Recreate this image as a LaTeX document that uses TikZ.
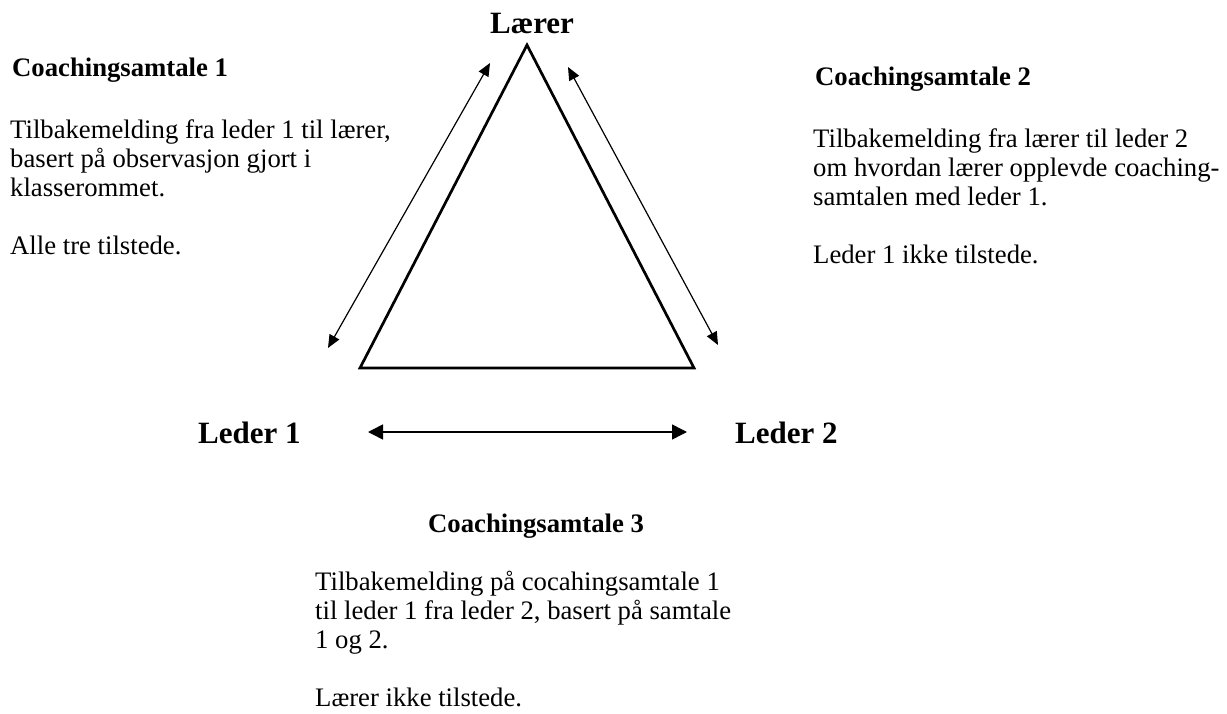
\documentclass[tikz,border=0pt]{standalone}
\usepackage{fontspec}
\setmainfont{Liberation Serif}
\usetikzlibrary{arrows.meta}
\newcommand\lyne[1]{\hbox{#1}}
\begin{document}
\begin{tikzpicture}[x=1pt,y=-1pt,
  body/.style={inner sep=0pt,anchor=base west,font=\fontsize{26.7}{29}\selectfont},
  head/.style={inner sep=0pt,anchor=base west,font=\fontsize{26.7}{29}\selectfont\bfseries},
  big/.style={inner sep=0pt,anchor=base west,font=\fontsize{31}{34}\selectfont\bfseries},
  tri/.style={line width=2.7pt,line join=miter},
  dbl/.style={line width=1.2pt,{Triangle[length=13pt,width=11pt]}-{Triangle[length=13pt,width=11pt]}},
  hdbl/.style={line width=1.5pt,{Triangle[length=15pt,width=15pt]}-{Triangle[length=15pt,width=15pt]}}]
\useasboundingbox (0,0) rectangle (1227,714);
% triangle corners
\coordinate (A) at (527,45);
\coordinate (B) at (360,368);
\coordinate (C) at (694,368);
\draw[tri] (A) -- (B) -- (C) -- cycle;
% arrow ends
\coordinate (l1) at (328,348);
\coordinate (l2) at (490,63);
\coordinate (r1) at (568,67);
\coordinate (r2) at (718,345);
\coordinate (h1) at (368,432);
\coordinate (h2) at (687,432);
\draw[dbl] (l1) -- (l2);
\draw[dbl] (r1) -- (r2);
\draw[hdbl] (h1) -- (h2);
% labels
\node[big] (laerer) at (490,34) {Lærer};
\node[big] (leder1) at (198,443) {Leder 1};
\node[big] (leder2) at (735,443) {Leder 2};
% left block
\node[head] (h1t) at (12,77) {Coachingsamtale 1};
\node[body] (b1) at (10,139) {\vtop{\baselineskip=29pt
  \lyne{Tilbakemelding fra leder 1 til lærer,}
  \lyne{basert på observasjon gjort i}
  \lyne{klasserommet.}
  \lyne{}
  \lyne{Alle tre tilstede.}}};
% right block
\node[head] (h2t) at (815,86) {Coachingsamtale 2};
\node[body] (b2) at (813,148) {\vtop{\baselineskip=29pt
  \lyne{Tilbakemelding fra lærer til leder 2}
  \lyne{om hvordan lærer opplevde coaching-}
  \lyne{samtalen med leder 1.}
  \lyne{}
  \lyne{Leder 1 ikke tilstede.}}};
% bottom block
\node[head] (h3t) at (428,532) {Coachingsamtale 3};
\node[body] (b3) at (315,590) {\vtop{\baselineskip=29pt
  \lyne{Tilbakemelding på cocahingsamtale 1}
  \lyne{til leder 1 fra leder 2, basert på samtale}
  \lyne{1 og 2.}
  \lyne{}
  \lyne{Lærer ikke tilstede.}}};
\end{tikzpicture}
\end{document}
